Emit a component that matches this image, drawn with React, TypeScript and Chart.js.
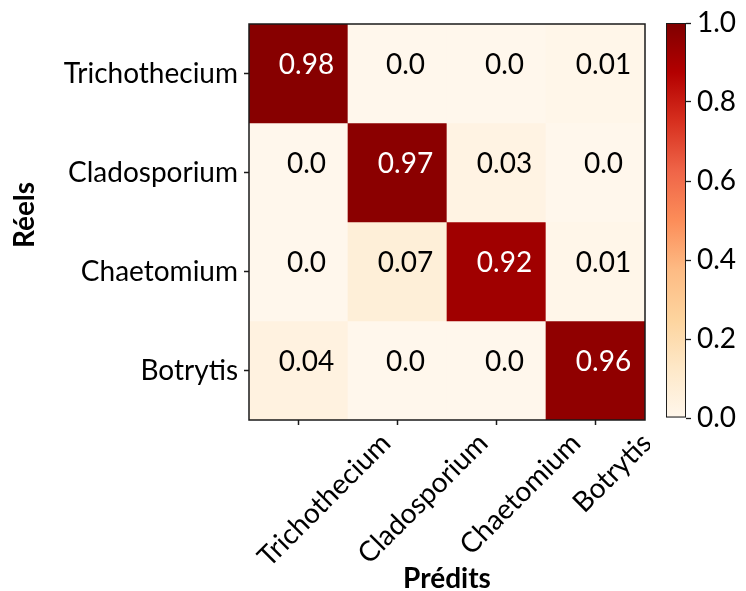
import React, { useEffect, useRef } from 'react';
import { Chart, registerables } from 'chart.js';

Chart.register(...registerables);

const ACTUAL = ['Trichothecium', 'Cladosporium', 'Chaetomium', 'Botrytis'];
const PREDICTED = ['Trichothecium', 'Cladosporium', 'Chaetomium', 'Botrytis'];
const ROW_TRICHOTHECIUM = [0.98, 0.0, 0.0, 0.01];
const ROW_CLADOSPORIUM = [0.0, 0.97, 0.03, 0.0];
const ROW_CHAETOMIUM = [0.0, 0.07, 0.92, 0.01];
const ROW_BOTRYTIS = [0.04, 0.0, 0.0, 0.96];
const MATRIX = [ROW_TRICHOTHECIUM, ROW_CLADOSPORIUM, ROW_CHAETOMIUM, ROW_BOTRYTIS];
const COLORBAR_TICKS = [0, 0.2, 0.4, 0.6, 0.8, 1.0];
const X_TITLE = 'Prédits';
const Y_TITLE = 'Réels';

const FONT_FAMILY = 'Lato';
const FONT_SIZE = 28;

const ORRD: number[][] = [
  [255, 247, 236],
  [254, 232, 200],
  [253, 212, 158],
  [253, 187, 132],
  [252, 141, 89],
  [239, 101, 72],
  [215, 48, 31],
  [179, 0, 0],
  [127, 0, 0],
];

function orrd(v: number): string {
  const t = Math.max(0, Math.min(1, v)) * (ORRD.length - 1);
  const i = Math.min(Math.floor(t), ORRD.length - 2);
  const f = t - i;
  const a = ORRD[i];
  const b = ORRD[i + 1];
  const c = a.map((x, k) => Math.round(x + (b[k] - x) * f));
  return `rgb(${c[0]},${c[1]},${c[2]})`;
}

function fmt(v: number): string {
  return Number.isInteger(Math.round(v * 1000) / 100) ? v.toFixed(1) : v.toFixed(2);
}

const cellTextPlugin = {
  id: 'cellText',
  afterDatasetsDraw(chart: any) {
    const { ctx, scales } = chart;
    ctx.save();
    ctx.font = `${FONT_SIZE}px ${FONT_FAMILY}`;
    ctx.textAlign = 'center';
    ctx.textBaseline = 'alphabetic';
    MATRIX.forEach((row, r) => {
      row.forEach((v, c) => {
        const x = scales.x.getPixelForValue(c) + 8;
        const y = scales.y.getPixelForValue(r + 0.5);
        ctx.fillStyle = v > 0.5 ? '#ffffff' : '#000000';
        ctx.fillText(fmt(v), x, y);
      });
    });
    ctx.restore();
  },
};

const frameAndLabelsPlugin = {
  id: 'frameAndLabels',
  afterDraw(chart: any) {
    const { ctx, chartArea, scales } = chart;
    ctx.save();
    ctx.strokeStyle = '#1a1a1a';
    ctx.lineWidth = 1.5;
    ctx.strokeRect(chartArea.left, chartArea.top, chartArea.right - chartArea.left, chartArea.bottom - chartArea.top);
    ctx.font = `${FONT_SIZE}px ${FONT_FAMILY}`;
    ctx.fillStyle = '#000';
    ctx.textAlign = 'right';
    ctx.textBaseline = 'alphabetic';
    PREDICTED.forEach((label, i) => {
      const w = ctx.measureText(label).width;
      const x = scales.x.getPixelForValue(i) + 12 + 0.47 * w;
      const y = chartArea.bottom + 25;
      ctx.save();
      ctx.translate(x, y);
      ctx.rotate(-Math.PI / 4);
      ctx.fillText(label, 0, 0);
      ctx.restore();
    });
    // y axis title
    ctx.font = `bold ${FONT_SIZE}px ${FONT_FAMILY}`;
    ctx.textAlign = 'center';
    ctx.textBaseline = 'middle';
    ctx.save();
    ctx.translate(25, (chartArea.top + chartArea.bottom) / 2 - 7);
    ctx.rotate(-Math.PI / 2);
    ctx.fillText(Y_TITLE, 0, 0);
    ctx.restore();
    ctx.restore();
  },
};

export default function App() {
  const mainRef = useRef<HTMLCanvasElement>(null);
  const cbRef = useRef<HTMLCanvasElement>(null);

  useEffect(() => {
    const tickFont = { family: FONT_FAMILY, size: FONT_SIZE };
    const titleFont = { family: FONT_FAMILY, size: FONT_SIZE, weight: 'bold' as const, lineHeight: 1 };

    const datasets = MATRIX.map((row, r) => ({
      label: ACTUAL[r],
      data: row.map(() => [r, r + 1]),
      backgroundColor: row.map((v) => orrd(v)),
      borderWidth: 0,
      barPercentage: 1,
      categoryPercentage: 1,
      grouped: false,
    }));

    const main = new Chart(mainRef.current as HTMLCanvasElement, {
      type: 'bar',
      data: { labels: PREDICTED, datasets: datasets as any },
      options: {
        responsive: false,
        animation: false,
        layout: { padding: { left: 0, right: 5, top: 24, bottom: 0 } },
        plugins: { legend: { display: false }, tooltip: { enabled: false } },
        scales: {
          x: {
            type: 'category',
            offset: true,
            grid: { offset: false, drawOnChartArea: false, tickLength: 5, tickColor: '#1a1a1a', tickWidth: 1.5 },
            ticks: { display: false, autoSkip: false },
            border: { display: false },
            title: { display: true, text: X_TITLE, font: titleFont, color: '#000', padding: { top: 0, bottom: -2 } },
            afterFit: (s: any) => {
              s.height = 171;
            },
          },
          y: {
            type: 'linear',
            min: 0,
            max: 4,
            reverse: true,
            afterBuildTicks: (s: any) => {
              s.ticks = ACTUAL.map((_, i) => ({ value: i + 0.5 }));
            },
            ticks: {
              autoSkip: false,
              font: tickFont,
              color: '#000',
              padding: 6,
              callback: (v: any) => ACTUAL[Math.floor(Number(v))],
            },
            grid: { drawOnChartArea: false, tickLength: 5, tickColor: '#1a1a1a', tickWidth: 1.5 },
            border: { display: false },
            title: { display: false },
            afterFit: (s: any) => {
              s.width = 249;
            },
          },
        },
      } as any,
      plugins: [cellTextPlugin, frameAndLabelsPlugin],
    });

    const cb = new Chart(cbRef.current as HTMLCanvasElement, {
      type: 'bar',
      data: {
        labels: ['scale'],
        datasets: [
          {
            data: [[0, 1]] as any,
            backgroundColor: (c: any) => {
              const chart = c.chart;
              const area = chart.chartArea;
              if (!area) return orrd(0.5);
              const g = chart.ctx.createLinearGradient(0, area.bottom, 0, area.top);
              ORRD.forEach((col, i) => g.addColorStop(i / (ORRD.length - 1), `rgb(${col[0]},${col[1]},${col[2]})`));
              return g;
            },
            borderColor: '#1a1a1a',
            borderWidth: 1.3,
            borderSkipped: false,
            barPercentage: 1,
            categoryPercentage: 1,
          } as any,
        ],
      },
      options: {
        responsive: false,
        animation: false,
        layout: { padding: { left: 16, right: 0, top: 23, bottom: 173 } },
        plugins: { legend: { display: false }, tooltip: { enabled: false } },
        scales: {
          x: { display: false },
          y: {
            position: 'right',
            min: 0,
            max: 1,
            afterBuildTicks: (s: any) => {
              s.ticks = COLORBAR_TICKS.map((v) => ({ value: v }));
            },
            ticks: {
              font: tickFont,
              color: '#000',
              padding: 6,
              callback: (v: any) => Number(v).toFixed(1),
            },
            grid: { drawOnChartArea: false, tickLength: 5, tickColor: '#1a1a1a', tickWidth: 1.3 },
            border: { display: false },
            afterFit: (s: any) => {
              s.width = 60;
            },
          },
        },
      } as any,
    });

    return () => {
      main.destroy();
      cb.destroy();
    };
  }, []);

  return (
    <div style={{ position: 'absolute', left: 0, top: 0, width: 746, height: 591, background: '#fff' }}>
      <canvas
        ref={mainRef}
        width={650}
        height={591}
        style={{ position: 'absolute', left: 0, top: 0, width: 650, height: 591 }}
      />
      <canvas
        ref={cbRef}
        width={96}
        height={591}
        style={{ position: 'absolute', left: 650, top: 0, width: 96, height: 591 }}
      />
    </div>
  );
}
